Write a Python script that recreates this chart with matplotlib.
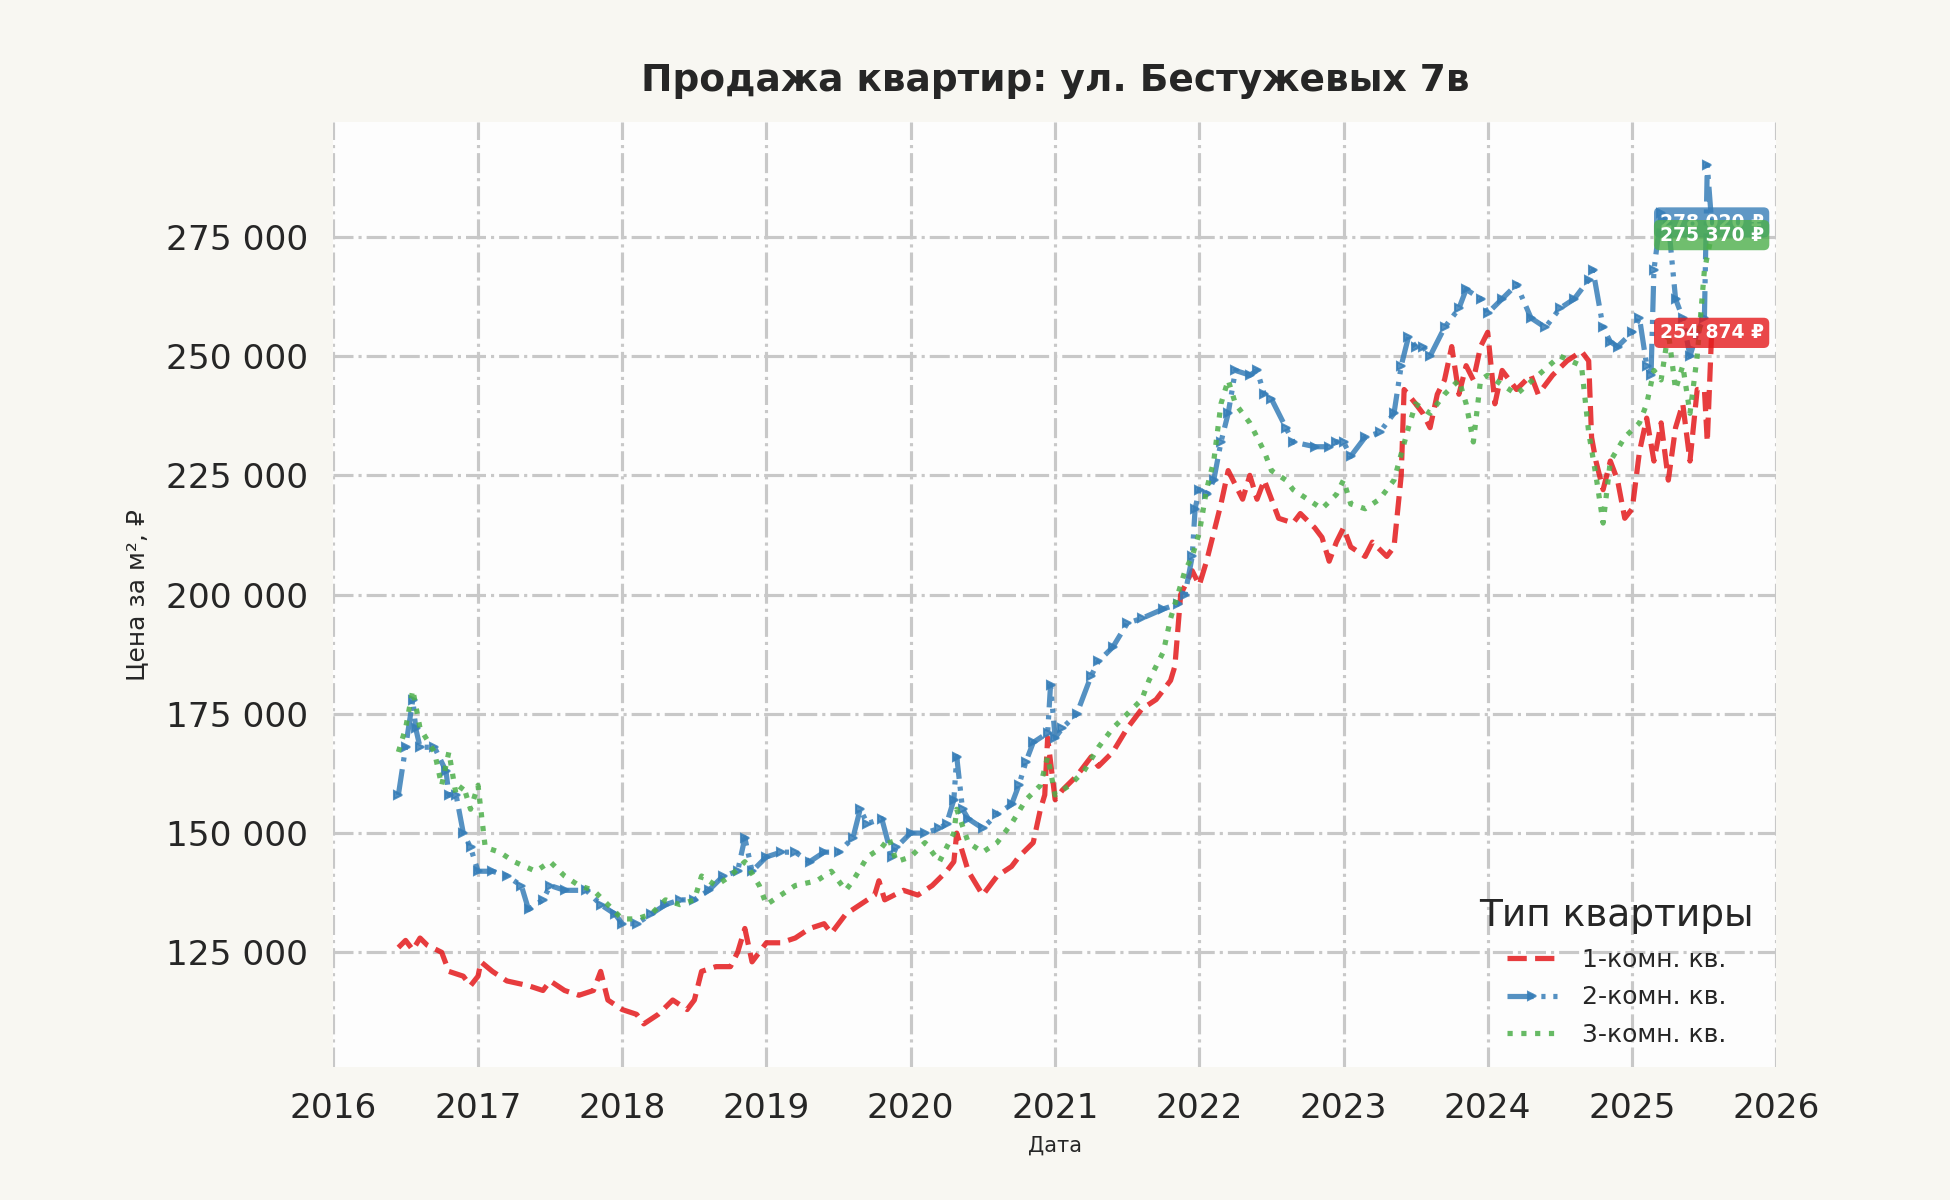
import matplotlib
matplotlib.use("Agg")
import matplotlib.pyplot as plt
import matplotlib.dates as mdates
import matplotlib.ticker as mticker
import pandas as pd
import numpy as np

title = "Продажа квартир: ул. Бестужевых 7в"
xlabel = "Дата"
ylabel = "Цена за м², ₽"
legend_title = "Тип квартиры"
names = ["1-комн. кв.", "2-комн. кв.", "3-комн. кв."]
colors = ["#e41a1c", "#377eb8", "#4daf4a"]

# 1-room (red)
t1 = [2016.45, 2016.5, 2016.55, 2016.6, 2016.65, 2016.75, 2016.8, 2016.9, 2016.95, 2017.0, 2017.02,
      2017.1, 2017.2, 2017.35, 2017.45, 2017.5, 2017.6, 2017.7, 2017.8, 2017.85, 2017.9, 2018.0,
      2018.1, 2018.15, 2018.25, 2018.35, 2018.45, 2018.5, 2018.55, 2018.65, 2018.75, 2018.8, 2018.85,
      2018.9, 2019.0, 2019.1, 2019.2, 2019.3, 2019.4, 2019.45, 2019.55, 2019.65, 2019.75, 2019.78,
      2019.82, 2019.95, 2020.05, 2020.15, 2020.25, 2020.3, 2020.32, 2020.4, 2020.5, 2020.6, 2020.7,
      2020.75, 2020.85, 2020.9, 2020.93, 2020.95, 2021.0, 2021.05, 2021.15, 2021.25, 2021.3, 2021.4,
      2021.5, 2021.6, 2021.7, 2021.8, 2021.83, 2021.87, 2021.95, 2022.0, 2022.05, 2022.1, 2022.15,
      2022.2, 2022.25, 2022.3, 2022.35, 2022.4, 2022.45, 2022.55, 2022.65, 2022.7, 2022.8, 2022.85,
      2022.9, 2022.95, 2023.0, 2023.05, 2023.15, 2023.2, 2023.3, 2023.35, 2023.4, 2023.42, 2023.5,
      2023.55, 2023.6, 2023.65, 2023.7, 2023.75, 2023.8, 2023.85, 2023.9, 2023.95, 2024.0, 2024.05,
      2024.1, 2024.2, 2024.3, 2024.35, 2024.45, 2024.55, 2024.65, 2024.7, 2024.72, 2024.75, 2024.8,
      2024.85, 2024.9, 2024.95, 2025.0, 2025.05, 2025.1, 2025.15, 2025.2, 2025.25, 2025.3, 2025.35,
      2025.4, 2025.45, 2025.5, 2025.52, 2025.55]
v1 = [126000, 127500, 125500, 128000, 126500, 125000, 121000, 120000, 118000, 120000, 123000,
      121000, 119000, 118000, 117000, 119000, 117000, 116000, 117000, 121000, 115000, 113000,
      112000, 110000, 112000, 115000, 113000, 115000, 121000, 122000, 122000, 125000, 130000,
      123000, 127000, 127000, 128000, 130000, 131000, 129000, 133000, 135000, 137000, 140000,
      136000, 138000, 137000, 139000, 142000, 144000, 150000, 142000, 137000, 141000, 143000,
      145000, 148000, 155000, 158000, 170000, 157000, 159000, 162000, 166000, 164000, 167000,
      172000, 176000, 178000, 182000, 185000, 200000, 205000, 202000, 207000, 213000, 219000,
      226000, 223000, 220000, 225000, 220000, 224000, 216000, 215000, 217000, 214000, 212000,
      207000, 211000, 214000, 210000, 208000, 211000, 208000, 210000, 225000, 243000, 240000,
      238000, 235000, 242000, 245000, 252000, 242000, 248000, 245000, 252000, 255000, 240000,
      247000, 243000, 246000, 242000, 246000, 249000, 251000, 249000, 233000, 228000, 222000,
      228000, 224000, 216000, 218000, 230000, 237000, 228000, 236000, 224000, 235000, 240000,
      228000, 243000, 243000, 232000, 254874]

# 2-room (blue)
t2 = [2016.45, 2016.5, 2016.55, 2016.57, 2016.6, 2016.7, 2016.78, 2016.8, 2016.85, 2016.9, 2016.95,
      2017.0, 2017.1, 2017.2, 2017.3, 2017.35, 2017.45, 2017.5, 2017.6, 2017.75, 2017.85, 2017.95,
      2018.0, 2018.1, 2018.2, 2018.3, 2018.4, 2018.5, 2018.6, 2018.7, 2018.8, 2018.85, 2018.9,
      2019.0, 2019.1, 2019.2, 2019.3, 2019.4, 2019.5, 2019.6, 2019.65, 2019.7, 2019.8, 2019.87,
      2019.9, 2020.0, 2020.1, 2020.2, 2020.25, 2020.3, 2020.32, 2020.36, 2020.4, 2020.5, 2020.6,
      2020.7, 2020.75, 2020.8, 2020.85, 2020.95, 2020.97, 2021.0, 2021.05, 2021.15, 2021.25, 2021.3,
      2021.4, 2021.5, 2021.6, 2021.75, 2021.85, 2021.9, 2021.95, 2021.97, 2022.0, 2022.05, 2022.1,
      2022.15, 2022.2, 2022.25, 2022.35, 2022.4, 2022.45, 2022.5, 2022.6, 2022.65, 2022.8, 2022.9,
      2022.95, 2023.0, 2023.05, 2023.15, 2023.25, 2023.35, 2023.4, 2023.45, 2023.5, 2023.55, 2023.6,
      2023.7, 2023.8, 2023.85, 2023.95, 2024.0, 2024.1, 2024.2, 2024.3, 2024.4, 2024.5, 2024.6,
      2024.7, 2024.73, 2024.8, 2024.85, 2024.9, 2025.0, 2025.05, 2025.1, 2025.13, 2025.15, 2025.2,
      2025.25, 2025.3, 2025.35, 2025.4, 2025.45, 2025.5, 2025.52, 2025.55]
v2 = [158000, 168000, 178000, 172000, 168000, 168000, 163000, 158000, 158000, 150000, 147000,
      142000, 142000, 141000, 139000, 134000, 136000, 139000, 138000, 138000, 135000, 133000,
      131000, 131000, 133000, 135000, 136000, 136000, 138000, 141000, 142000, 149000, 142000,
      145000, 146000, 146000, 144000, 146000, 146000, 149000, 155000, 152000, 153000, 145000,
      147000, 150000, 150000, 151000, 152000, 157000, 166000, 155000, 153000, 151000, 154000,
      156000, 160000, 165000, 169000, 171000, 181000, 170000, 172000, 175000, 183000, 186000,
      189000, 194000, 195000, 197000, 198000, 200000, 208000, 218000, 222000, 221000, 224000,
      232000, 238000, 247000, 246000, 247000, 242000, 241000, 235000, 232000, 231000, 231000,
      232000, 232000, 229000, 233000, 234000, 238000, 248000, 254000, 252000, 252000, 250000,
      256000, 260000, 264000, 262000, 259000, 262000, 265000, 258000, 256000, 260000, 262000,
      266000, 268000, 256000, 253000, 252000, 255000, 258000, 248000, 246000, 268000, 280000,
      278000, 262000, 258000, 250000, 255000, 258000, 290000, 278020]

# 3-room (green)
t3 = [2016.45, 2016.5, 2016.55, 2016.6, 2016.7, 2016.75, 2016.8, 2016.85, 2016.9, 2016.95, 2017.0,
      2017.05, 2017.15, 2017.25, 2017.4, 2017.5, 2017.6, 2017.7, 2017.8, 2017.9, 2018.0, 2018.1,
      2018.2, 2018.3, 2018.4, 2018.5, 2018.55, 2018.65, 2018.75, 2018.85, 2018.95, 2019.0, 2019.1,
      2019.2, 2019.35, 2019.45, 2019.55, 2019.6, 2019.7, 2019.8, 2019.85, 2019.9, 2020.0, 2020.1,
      2020.2, 2020.3, 2020.32, 2020.4, 2020.5, 2020.6, 2020.7, 2020.8, 2020.9, 2020.95, 2021.0,
      2021.1, 2021.2, 2021.3, 2021.4, 2021.5, 2021.6, 2021.65, 2021.7, 2021.75, 2021.8, 2021.85,
      2021.9, 2021.95, 2022.0, 2022.05, 2022.1, 2022.15, 2022.2, 2022.25, 2022.3, 2022.35, 2022.45,
      2022.5, 2022.6, 2022.65, 2022.75, 2022.85, 2022.95, 2023.0, 2023.05, 2023.15, 2023.25, 2023.35,
      2023.45, 2023.5, 2023.6, 2023.7, 2023.8, 2023.85, 2023.9, 2023.95, 2024.0, 2024.1, 2024.2,
      2024.35, 2024.5, 2024.65, 2024.7, 2024.75, 2024.8, 2024.85, 2024.95, 2025.05, 2025.1, 2025.15,
      2025.2, 2025.25, 2025.3, 2025.35, 2025.4, 2025.45, 2025.5, 2025.55]
v3 = [167000, 172000, 180000, 172000, 167000, 160000, 167000, 158000, 160000, 155000, 160000,
      147000, 146000, 144000, 142000, 144000, 141000, 139000, 138000, 135000, 132000, 132000,
      133000, 136000, 135000, 136000, 141000, 139000, 141000, 144000, 139000, 135000, 137000,
      139000, 140000, 142000, 138000, 140000, 145000, 147000, 149000, 144000, 145000, 148000,
      144000, 150000, 155000, 148000, 146000, 148000, 152000, 157000, 160000, 166000, 158000,
      160000, 163000, 168000, 172000, 175000, 178000, 182000, 185000, 188000, 195000, 200000,
      205000, 208000, 213000, 222000, 228000, 240000, 245000, 240000, 238000, 236000, 230000,
      226000, 224000, 222000, 220000, 218000, 221000, 224000, 219000, 218000, 220000, 224000,
      235000, 240000, 238000, 242000, 245000, 240000, 232000, 245000, 246000, 244000, 242000,
      246000, 250000, 248000, 234000, 225000, 215000, 228000, 233000, 236000, 240000, 247000,
      245000, 255000, 243000, 248000, 238000, 250000, 268000, 275370]


def to_dates(years):
    out = []
    for y in years:
        yi = int(np.floor(y))
        out.append(pd.Timestamp(f"{yi}-01-01") + pd.Timedelta(days=(y - yi) * 365.25))
    return out


fig = plt.figure(figsize=(13, 8), dpi=150, facecolor="#f8f7f2")
ax = fig.add_axes([0.171, 0.111, 0.740, 0.787])
ax.set_facecolor("#fdfdfd")

series = [(t1, v1), (t2, v2), (t3, v3)]
styles = [
    dict(linestyle="--", marker=None),
    dict(linestyle=(0, (5, 1.5, 0.8, 1.5, 0.8, 1.5)), marker=">", markersize=3.5),
    dict(linestyle=":", marker=None),
]
for (t, v), name, c, st in zip(series, names, colors, styles):
    d = to_dates(t)
    ax.plot(d, v, color=c, lw=2.5, alpha=0.85, label=name, **st)

for (t, v), c in zip(series, colors):
    d = to_dates(t)[-1]
    txt = f"{v[-1]:,}".replace(",", " ") + " ₽"
    ax.text(d, v[-1], txt, ha="center", va="center", color="white", fontsize=9,
            fontweight="bold", zorder=5,
            bbox=dict(boxstyle="round,pad=0.3", facecolor=c, edgecolor="none", alpha=0.8))

ax.set_xlim(pd.Timestamp("2016-01-01"), pd.Timestamp("2026-01-01"))
ax.margins(y=0.05)
ax.xaxis.set_major_locator(mdates.YearLocator())
ax.xaxis.set_major_formatter(mdates.DateFormatter("%Y"))
ax.yaxis.set_major_locator(mticker.MultipleLocator(25000))
ax.yaxis.set_major_formatter(mticker.FuncFormatter(lambda x, p: f"{int(x):,}".replace(",", " ")))

ax.grid(True, color="#c8c8c8", linestyle="-.", linewidth=1.5)
ax.set_axisbelow(True)
for s in ax.spines.values():
    s.set_visible(False)
ax.tick_params(axis="both", length=0, labelsize=16.5, labelcolor="#262626", pad=12)

ax.set_title(title, fontsize=18, fontweight="bold", color="#262626", pad=15)
ax.set_xlabel(xlabel, fontsize=10, color="#262626", labelpad=5)
ax.set_ylabel(ylabel, fontsize=12, color="#262626", labelpad=8)

leg = ax.legend(title=legend_title, loc="lower right", fontsize=12, title_fontsize=18,
                frameon=False, handlelength=2.0, handletextpad=1.0, labelspacing=0.55,
                bbox_to_anchor=(1.0, -0.003))
for txt in leg.get_texts():
    txt.set_color("#262626")
leg.get_title().set_color("#262626")

fig.savefig("out.png", dpi=150, facecolor=fig.get_facecolor())
